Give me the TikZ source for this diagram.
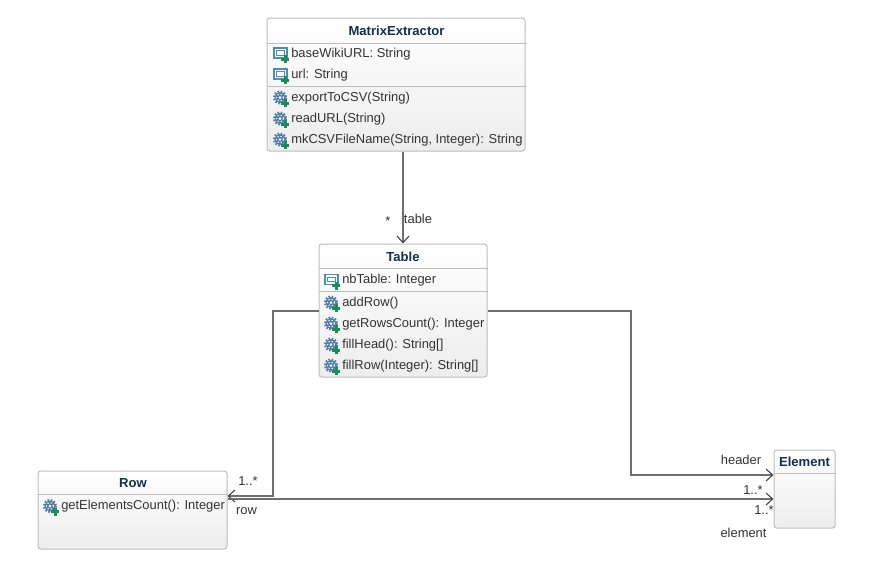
\documentclass[tikz,border=0pt]{standalone}
\usepackage{fontspec}
\setmainfont{Liberation Sans}
\usetikzlibrary{arrows.meta,calc}
\definecolor{titleblue}{HTML}{12304F}
\definecolor{bodytext}{HTML}{333333}
\definecolor{boxline}{HTML}{BDBDBD}
\definecolor{wire}{HTML}{6E6E6E}
\definecolor{iconblue}{HTML}{4A8DB8}
\definecolor{gearblue}{HTML}{4F7DA8}
\definecolor{plusgreen}{HTML}{1E8A5A}
\tikzset{
	classbox/.style={draw=boxline, line width=0.75pt, rounded corners=2pt, top color=white, bottom color=black!7, inner sep=0pt},
	title/.style={font=\fontsize{9.8pt}{11pt}\selectfont\bfseries, text=titleblue, inner sep=0pt},
	member/.style={font=\fontsize{9.7pt}{11pt}\selectfont, text=bodytext, anchor=west, inner sep=0pt},
	rolelabel/.style={font=\fontsize{9.7pt}{11pt}\selectfont, text=bodytext, inner sep=0pt},
	divider/.style={boxline, line width=0.75pt},
	wirearrow/.style={wire, line width=1.5pt, -{Straight Barb[black!75,line width=0.8pt,length=5pt,width=9pt]}},
	plus/.pic={
		\fill[plusgreen] (-1.5,-4) rectangle (1.5,4);
		\fill[plusgreen] (-4,-1.5) rectangle (4,1.5);
	},
	attrib/.pic={
		\draw[iconblue, line width=0.9pt, fill=white] (-7,-5) rectangle (6,5);
		\draw[iconblue, line width=0.6pt] (-4.5,-2.5) rectangle (3.5,2);
		\pic at (4,6) {plus};
	},
	oper/.pic={
		\fill[gearblue] (-1,0) circle (5.5);
		\draw[gearblue, line width=1.5pt, dash pattern=on 1.2pt off 1.2pt] (-1,0) circle (6);
		\draw[white, line width=0.7pt, dash pattern=on 1pt off 1.5pt] (-1,0) circle (3.5);
		\fill[white] (-1,0) circle (1.5);
		\pic at (4,5.5) {plus};
	}
}
\begin{document}
\begin{tikzpicture}[x=0.75pt, y=-0.75pt]
\useasboundingbox (0,0) rectangle (884,572);

% classes
\node (extractor) at (396,84.5) [classbox, minimum width=193.5pt, minimum height=99.75pt] {};
\node (table) at (403,310.5) [classbox, minimum width=126pt, minimum height=99.75pt] {};
\node (row) at (132.5,510) [classbox, minimum width=141.75pt, minimum height=58.5pt] {};
\node (element) at (804.5,489) [classbox, minimum width=45.75pt, minimum height=58.5pt] {};

% titles
\node (extractortitle) at (396.5,31) [title] {MatrixExtractor};
\node (tabletitle) at (403,257) [title] {Table};
\node (rowtitle) at (133,483) [title] {Row};
\node (elementtitle) at (804.5,462) [title] {Element};

% dividers
\draw [divider] (extractor.west |- 0,43) -- (extractor.east |- 0,43);
\draw [divider] (extractor.west |- 0,86) -- (extractor.east |- 0,86);
\draw [divider] (table.west |- 0,268) -- (table.east |- 0,268);
\draw [divider] (table.west |- 0,291) -- (table.east |- 0,291);
\draw [divider] (row.west |- 0,494) -- (row.east |- 0,494);
\draw [divider] (element.west |- 0,473) -- (element.east |- 0,473);

% attributes and operations
\pic at (281,53) {attrib};
\node (baseurl) at (291,54) [member] {baseWikiURL: String};
\pic at (281,74) {attrib};
\node (url) at (291,75) [member] {url: String};
\pic at (281,97.5) {oper};
\node (export) at (291,98) [member] {exportToCSV(String)};
\pic at (281,118.5) {oper};
\node (readurl) at (291,119) [member] {readURL(String)};
\pic at (281,139.5) {oper};
\node (mkname) at (291,140) [member] {mkCSVFileName(String, Integer): String};

\pic at (332,279.5) {attrib};
\node (nbtable) at (342,280) [member] {nbTable: Integer};
\pic at (332,302.5) {oper};
\node (addrow) at (342,303) [member] {addRow()};
\pic at (332,323.5) {oper};
\node (rowscount) at (342,324) [member] {getRowsCount(): Integer};
\pic at (332,344.5) {oper};
\node (fillhead) at (342,345) [member] {fillHead(): String[]};
\pic at (332,365.5) {oper};
\node (fillrow) at (342,366) [member] {fillRow(Integer): String[]};

\pic at (51,506) {oper};
\node (elemcount) at (61,506.5) [member] {getElementsCount(): Integer};

% connectors
\draw [wirearrow] (table.north |- extractor.south) -- (table.north);
\draw [wirearrow] (table.west) -| (273,496) -- ([yshift=10.5pt]row.east);
\draw [wirearrow] (table.east) -| (630.5,475) -- ([yshift=10.5pt]element.west);
\draw [wirearrow] ([yshift=8.25pt]row.east) -- ([yshift=-7.5pt]element.west);

% role labels
\node (tablerole) at (418,219) [rolelabel] {table};
\node (tablemult) at (388,221) [rolelabel] {*};
\node (rowmult) at (248,481) [rolelabel] {1..*};
\node (rowrole) at (246.5,511) [rolelabel] {row};
\node (headerrole) at (741,460) [rolelabel] {header};
\node (headermult) at (753,490) [rolelabel] {1..*};
\node (elemmult) at (764,510) [rolelabel] {1..*};
\node (elemrole) at (743.5,533) [rolelabel] {element};
\end{tikzpicture}
\end{document}
